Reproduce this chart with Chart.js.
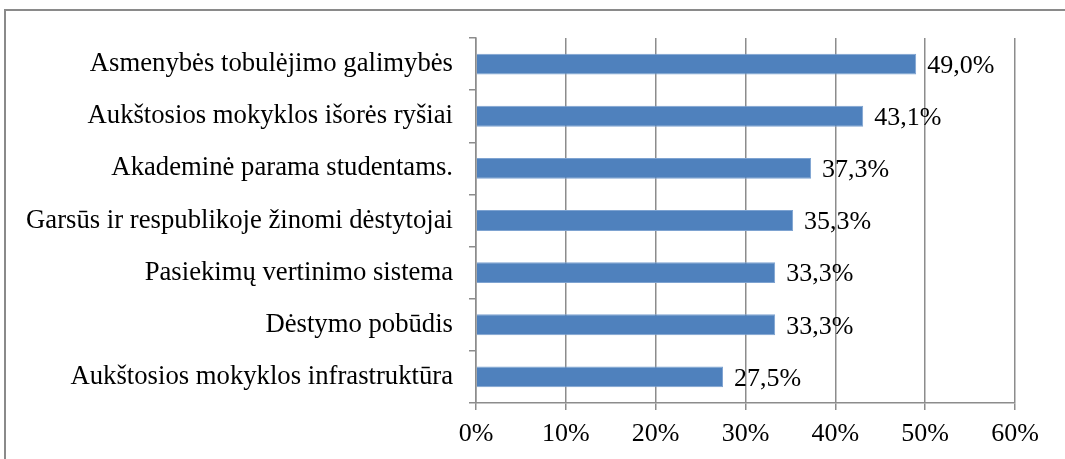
<!DOCTYPE html>
<html>
<head>
<meta charset="utf-8">
<script src="https://cdn.jsdelivr.net/npm/chart.js@4/dist/chart.umd.min.js"></script>
<style>
  html, body { margin: 0; padding: 0; background: #fff; }
  #wrap { position: relative; width: 1065px; height: 459px; }
  #frame { position: absolute; left: 4px; top: 9px; right: -10px; bottom: -10px; border: 2px solid #8a8a8a; }
  canvas { position: absolute; left: 0; top: 0; }
</style>
</head>
<body>
<div id="wrap">
  <div id="frame"></div>
  <canvas id="chart" width="1065" height="459"></canvas>
</div>
<script>
// Data
const categories = [
  'Asmenybės tobulėjimo galimybės',
  'Aukštosios mokyklos išorės ryšiai',
  'Akademinė parama studentams.',
  'Garsūs ir respublikoje žinomi dėstytojai',
  'Pasiekimų vertinimo sistema',
  'Dėstymo pobūdis',
  'Aukštosios mokyklos infrastruktūra'
];
const values = [49.0, 43.1, 37.3, 35.3, 33.3, 33.3, 27.5];
const xTicks = [0, 10, 20, 30, 40, 50, 60];

const fontFamily = '"Liberation Serif", "Times New Roman", serif';
const fontSize = 26;
const gridColor = '#8c8c8c';

// value labels at the end of each bar
const barLabels = {
  id: 'barLabels',
  afterDatasetsDraw(chart) {
    const ctx = chart.ctx;
    const meta = chart.getDatasetMeta(0);
    ctx.save();
    ctx.font = fontSize + 'px ' + fontFamily;
    ctx.fillStyle = '#000';
    ctx.textAlign = 'left';
    ctx.textBaseline = 'middle';
    meta.data.forEach((bar, i) => {
      ctx.fillText(values[i].toFixed(1).replace('.', ',') + '%', bar.x + 11, bar.y + 2);
    });
    ctx.restore();
  }
};

new Chart(document.getElementById('chart'), {
  type: 'bar',
  data: {
    labels: categories,
    datasets: [{
      data: values,
      backgroundColor: '#4f81bd',
      borderColor: '#7ea3d1',
      borderWidth: 1,
      categoryPercentage: 1,
      barPercentage: 0.4
    }]
  },
  options: {
    indexAxis: 'y',
    responsive: false,
    animation: false,
    layout: { padding: { top: 38, right: 50, left: 0, bottom: 0 } },
    plugins: { legend: { display: false }, tooltip: { enabled: false } },
    scales: {
      x: {
        min: 0,
        max: 60,
        afterBuildTicks(scale) { scale.ticks = xTicks.map(v => ({ value: v })); },
        afterFit(scale) { scale.height = 56; },
        grid: { color: gridColor, lineWidth: 1.5, tickLength: 7, drawTicks: true },
        border: { color: gridColor, width: 1.5 },
        ticks: {
          color: '#000',
          padding: 9,
          font: { family: fontFamily, size: fontSize },
          callback: v => v + '%'
        }
      },
      y: {
        afterFit(scale) { scale.width = 476; },
        grid: { offset: true, drawOnChartArea: false, color: gridColor, lineWidth: 1.5, tickLength: 7 },
        border: { color: gridColor, width: 1.5 },
        ticks: {
          color: '#000',
          padding: 16,
          font: { family: fontFamily, size: 26.7 }
        }
      }
    }
  },
  plugins: [barLabels]
});
</script>
</body>
</html>
